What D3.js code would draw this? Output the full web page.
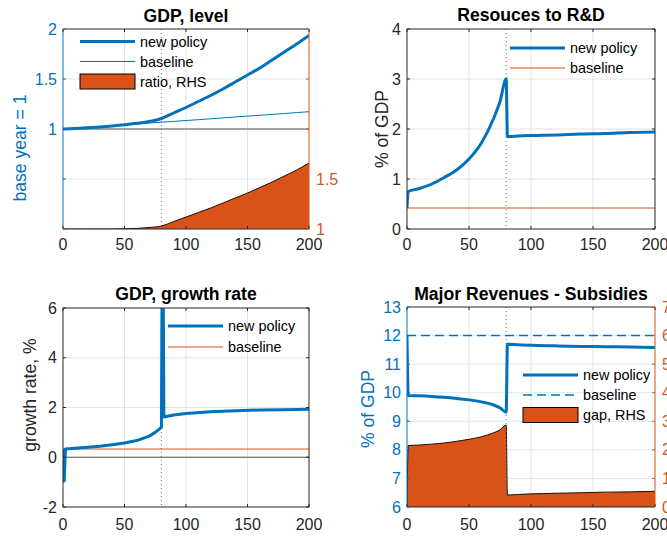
<!DOCTYPE html>
<html><head><meta charset="utf-8">
<script src="https://cdn.jsdelivr.net/npm/d3@7"></script>
<style>body{margin:0;background:#fff}svg{display:block;font-family:"Liberation Sans",Arial,Helvetica,sans-serif}</style>
</head><body><svg id="c" width="667" height="539"></svg>
<script>
// ---------- data ----------
const xTicks = [0, 50, 100, 150, 200];
// GDP level
const gdpX     = [0,10,20,30,40,50,60,70,80,90,100,110,120,130,140,150,160,170,180,190,200];
const gdpNew   = [1.0,1.005,1.012,1.02,1.03,1.042,1.057,1.075,1.105,1.16,1.215,1.275,1.335,1.4,1.47,1.54,1.61,1.69,1.77,1.85,1.935];
const gdpBase  = [1.0,1.008,1.016,1.025,1.033,1.042,1.05,1.059,1.068,1.076,1.085,1.093,1.102,1.111,1.12,1.129,1.137,1.146,1.155,1.164,1.173];
const gdpRatio = [1.0,1.0,1.0,1.0,1.0,1.002,1.006,1.015,1.03,1.075,1.12,1.165,1.21,1.26,1.31,1.36,1.415,1.47,1.53,1.59,1.66];
const gdpLeftTicks = [0, 0.5, 1, 1.5, 2];
const gdpLeftLabels = ["", "", "1", "1.5", "2"];
const gdpRightTicks = [1, 1.5, 2, 2.5, 3];
const gdpRightLabels = ["1", "1.5", "", "", ""];
// R&D
const rdX    = [0,1,10,20,30,40,50,60,70,75,80,81,90,100,120,140,160,180,200];
const rdNew  = [0.42,0.75,0.81,0.9,1.03,1.18,1.4,1.72,2.22,2.55,3.0,1.85,1.86,1.87,1.88,1.9,1.91,1.93,1.94];
const rdBase = [0.42,0.42,0.42,0.42,0.42,0.42,0.42,0.42,0.42,0.42,0.42,0.42,0.42,0.42,0.42,0.42,0.42,0.42,0.42];
const rdTicks = [0,1,2,3,4];
// GDP growth
const grX    = [0,1,2,10,20,30,40,50,60,70,75,80,81,82,90,100,120,140,160,180,200];
const grNew  = [0.33,-0.95,0.33,0.36,0.4,0.44,0.5,0.57,0.67,0.85,1.0,1.2,12,1.62,1.7,1.76,1.83,1.87,1.9,1.91,1.93];
const grBase = [0.33,0.33,0.33,0.33,0.33,0.33,0.33,0.33,0.33,0.33,0.33,0.33,0.33,0.33,0.33,0.33,0.33,0.33,0.33,0.33,0.33];
const grTicks = [-2,0,2,4,6];
// Revenues - subsidies
const revX    = [0,1,10,20,30,40,50,60,70,75,80,81,90,100,120,140,160,180,200];
const revNew  = [12,9.9,9.89,9.87,9.84,9.8,9.75,9.68,9.57,9.47,9.32,11.7,11.68,11.66,11.64,11.62,11.61,11.6,11.58];
const revBase = [12,12,12,12,12,12,12,12,12,12,12,12,12,12,12,12,12,12,12];
const revGap  = [0,2.15,2.17,2.2,2.24,2.3,2.37,2.46,2.6,2.7,2.87,0.42,0.44,0.46,0.48,0.5,0.52,0.53,0.55];
const revLeftTicks = [6,7,8,9,10,11,12,13];
const revRightTicks = [0,1,2,3,4,5,6,7];
const policyX = 80;

// ---------- style ----------
const BLUE = "#0072BD", ORANGE = "#D95319", AX = "#262626";
const GRID = "#e3e3e3", BGRID = "#dbe9f4";
const svg = d3.select("#c");
const FS = 16, TFS = 17.6, LFS = 14.4;

function panel(o) {
  const g = svg.append("g");
  const x = d3.scaleLinear().domain([0, 200]).range([o.l, o.r]);
  const y = d3.scaleLinear().domain(o.yDom).range([o.b, o.t]);
  const y2 = o.y2Dom ? d3.scaleLinear().domain(o.y2Dom).range([o.b, o.t]) : null;
  const id = "clip" + Math.round(o.l) + "_" + Math.round(o.t);
  svg.append("defs").append("clipPath").attr("id", id)
    .append("rect").attr("x", o.l).attr("y", o.t).attr("width", o.r - o.l).attr("height", o.b - o.t);
  // grid
  const gg = g.append("g");
  xTicks.slice(1, -1).forEach(v => gg.append("line").attr("x1", x(v)).attr("x2", x(v)).attr("y1", o.t).attr("y2", o.b).attr("stroke", GRID));
  o.yTicks.forEach(v => { if (y(v) > o.t + 0.5 && y(v) < o.b - 0.5) gg.append("line").attr("x1", o.l).attr("x2", o.r).attr("y1", y(v)).attr("y2", y(v)).attr("stroke", o.y2Dom ? BGRID : GRID); });
  const pg = g.append("g").attr("clip-path", `url(#${id})`);
  return {g, pg, x, y, y2};
}

function axes(P, o) {
  const {g, x, y, y2} = P;
  const lc = o.y2Dom ? BLUE : AX;
  const rc = o.y2Dom ? ORANGE : AX;
  const TL = 3;
  // box
  g.append("line").attr("x1", o.l).attr("x2", o.r).attr("y1", o.b).attr("y2", o.b).attr("stroke", AX);
  g.append("line").attr("x1", o.l).attr("x2", o.r).attr("y1", o.t).attr("y2", o.t).attr("stroke", AX);
  g.append("line").attr("x1", o.l).attr("x2", o.l).attr("y1", o.t).attr("y2", o.b).attr("stroke", lc);
  g.append("line").attr("x1", o.r).attr("x2", o.r).attr("y1", o.t).attr("y2", o.b).attr("stroke", rc);
  // x ticks
  xTicks.forEach(v => {
    g.append("line").attr("x1", x(v)).attr("x2", x(v)).attr("y1", o.b).attr("y2", o.b - TL).attr("stroke", AX);
    g.append("line").attr("x1", x(v)).attr("x2", x(v)).attr("y1", o.t).attr("y2", o.t + TL).attr("stroke", AX);
    g.append("text").attr("x", x(v)).attr("y", o.b + o.xLabOff).attr("text-anchor", "middle")
      .attr("font-size", FS).attr("fill", AX).text(v);
  });
  // left ticks
  o.yTicks.forEach((v, i) => {
    g.append("line").attr("x1", o.l).attr("x2", o.l + TL).attr("y1", y(v)).attr("y2", y(v)).attr("stroke", lc);
    if (!o.y2Dom) g.append("line").attr("x1", o.r).attr("x2", o.r - TL).attr("y1", y(v)).attr("y2", y(v)).attr("stroke", AX);
    const lab = o.yLabels ? o.yLabels[i] : String(v);
    g.append("text").attr("x", o.l - 6).attr("y", y(v)).attr("dy", "0.35em").attr("text-anchor", "end")
      .attr("font-size", FS).attr("fill", lc).text(lab);
  });
  if (o.y2Dom) {
    o.y2Ticks.forEach((v, i) => {
      g.append("line").attr("x1", o.r).attr("x2", o.r - TL).attr("y1", y2(v)).attr("y2", y2(v)).attr("stroke", ORANGE);
      const lab = o.y2Labels ? o.y2Labels[i] : String(v);
      g.append("text").attr("x", o.r + 7).attr("y", y2(v)).attr("dy", "0.35em").attr("text-anchor", "start")
        .attr("font-size", FS).attr("fill", ORANGE).text(lab);
    });
  }
  // title
  g.append("text").attr("x", (o.l + o.r) / 2).attr("y", o.titleY).attr("text-anchor", "middle")
    .attr("font-size", TFS).attr("font-weight", "bold").attr("fill", "#000").text(o.title);
  // y label
  g.append("text").attr("transform", `translate(${o.ylx},${o.lyc}) rotate(-90)`).attr("dy", "0.32em")
    .attr("text-anchor", "middle").attr("font-size", TFS).attr("fill", lc).text(o.ylabel);
}

function line(P, xs, ys, sc, color, w, dash) {
  const gen = d3.line().x((d, i) => P.x(xs[i])).y(d => sc(d)).curve(d3.curveMonotoneX);
  P.pg.append("path").attr("d", gen(ys)).attr("fill", "none").attr("stroke", color)
    .attr("stroke-width", w).attr("stroke-dasharray", dash || null).attr("stroke-linejoin", "round");
}
function area(P, xs, ys, sc) {
  const gen = d3.area().x((d, i) => P.x(xs[i])).y0(sc(sc.domain()[0])).y1(d => sc(d)).curve(d3.curveMonotoneX);
  P.pg.append("path").attr("d", gen(ys)).attr("fill", ORANGE).attr("stroke", "none");
  const lg = d3.line().x((d, i) => P.x(xs[i])).y(d => sc(d)).curve(d3.curveMonotoneX);
  P.pg.append("path").attr("d", lg(ys)).attr("fill", "none").attr("stroke", "#000").attr("stroke-width", 0.9);
}
function hline(P, v, sc, color, w) {
  P.pg.append("line").attr("x1", P.x(0)).attr("x2", P.x(200)).attr("y1", sc(v)).attr("y2", sc(v)).attr("stroke", color).attr("stroke-width", w);
}
function vdot(P, o) {
  P.pg.append("line").attr("x1", P.x(policyX)).attr("x2", P.x(policyX)).attr("y1", o.t).attr("y2", o.b)
    .attr("stroke", "#707070").attr("stroke-width", 1).attr("stroke-dasharray", "1,3");
}
function legend(P, x0, items) {
  items.forEach(it => {
    if (it.type === "rect") {
      P.g.append("rect").attr("x", x0).attr("y", it.y - 7.5).attr("width", 55).attr("height", 15)
        .attr("fill", ORANGE).attr("stroke", "#000").attr("stroke-width", 1);
    } else {
      P.g.append("line").attr("x1", x0).attr("x2", x0 + 55).attr("y1", it.y).attr("y2", it.y)
        .attr("stroke", it.color).attr("stroke-width", it.w).attr("stroke-dasharray", it.dash || null);
    }
    P.g.append("text").attr("x", x0 + 60).attr("y", it.y).attr("dy", "0.35em").attr("font-size", LFS)
      .attr("fill", "#000").text(it.label);
  });
}

// ---------- Panel 1: GDP level ----------
{
  const o = {l: 63, r: 309, t: 29, b: 229, yDom: [0, 2], yTicks: gdpLeftTicks, yLabels: gdpLeftLabels,
    y2Dom: [1, 3], y2Ticks: gdpRightTicks, y2Labels: gdpRightLabels,
    title: "GDP, level", titleY: 22, ylabel: "base year = 1", ylx: 20, lyc: 148, xLabOff: 21};
  const P = panel(o);
  area(P, gdpX, gdpRatio, P.y2);
  hline(P, 1, P.y, "#555", 1);
  vdot(P, o);
  line(P, gdpX, gdpBase, P.y, BLUE, 1, null);
  line(P, gdpX, gdpNew, P.y, BLUE, 3, null);
  axes(P, o);
  legend(P, 80, [
    {y: 41.5, color: BLUE, w: 3, label: "new policy"},
    {y: 61.5, color: BLUE, w: 1, label: "baseline"},
    {y: 81.5, type: "rect", label: "ratio, RHS"}]);
}
// ---------- Panel 2: R&D ----------
{
  const o = {l: 407, r: 655, t: 29, b: 229, yDom: [0, 4], yTicks: rdTicks,
    title: "Resouces to R&D", titleY: 21, ylabel: "% of GDP", ylx: 382, lyc: 129, xLabOff: 21};
  const P = panel(o);
  vdot(P, o);
  line(P, rdX, rdBase, P.y, ORANGE, 1, null);
  line(P, rdX, rdNew, P.y, BLUE, 3, null);
  axes(P, o);
  legend(P, 510, [
    {y: 48, color: BLUE, w: 3, label: "new policy"},
    {y: 68, color: ORANGE, w: 1, label: "baseline"}]);
}
// ---------- Panel 3: growth ----------
{
  const o = {l: 63, r: 309, t: 308, b: 507, yDom: [-2, 6], yTicks: grTicks,
    title: "GDP, growth rate", titleY: 300, ylabel: "growth rate, %", ylx: 30, lyc: 395, xLabOff: 23};
  const P = panel(o);
  hline(P, 0, P.y, "#555", 1);
  vdot(P, o);
  line(P, grX, grBase, P.y, ORANGE, 1, null);
  const gen = d3.line().x((d, i) => P.x(grX[i])).y(d => P.y(d));
  P.pg.append("path").attr("d", gen(grNew)).attr("fill", "none").attr("stroke", BLUE).attr("stroke-width", 3).attr("stroke-linejoin", "round");
  axes(P, o);
  legend(P, 168, [
    {y: 326, color: BLUE, w: 3, label: "new policy"},
    {y: 347, color: ORANGE, w: 1, label: "baseline"}]);
}
// ---------- Panel 4: revenues ----------
{
  const o = {l: 407, r: 655, t: 307, b: 507, yDom: [6, 13], yTicks: revLeftTicks,
    y2Dom: [0, 7], y2Ticks: revRightTicks,
    title: "Major Revenues - Subsidies", titleY: 300, ylabel: "% of GDP", ylx: 368, lyc: 409, xLabOff: 23};
  const P = panel(o);
  area(P, revX, revGap, P.y2);
  vdot(P, o);
  line(P, revX, revBase, P.y, BLUE, 1.6, "9,5");
  const gen = d3.line().x((d, i) => P.x(revX[i])).y(d => P.y(d)).curve(d3.curveMonotoneX);
  P.pg.append("path").attr("d", gen(revNew)).attr("fill", "none").attr("stroke", BLUE).attr("stroke-width", 3);
  axes(P, o);
  legend(P, 523, [
    {y: 375, color: BLUE, w: 3, label: "new policy"},
    {y: 395, color: BLUE, w: 1.6, dash: "9,5", label: "baseline"},
    {y: 415, type: "rect", label: "gap, RHS"}]);
}
</script></body></html>
